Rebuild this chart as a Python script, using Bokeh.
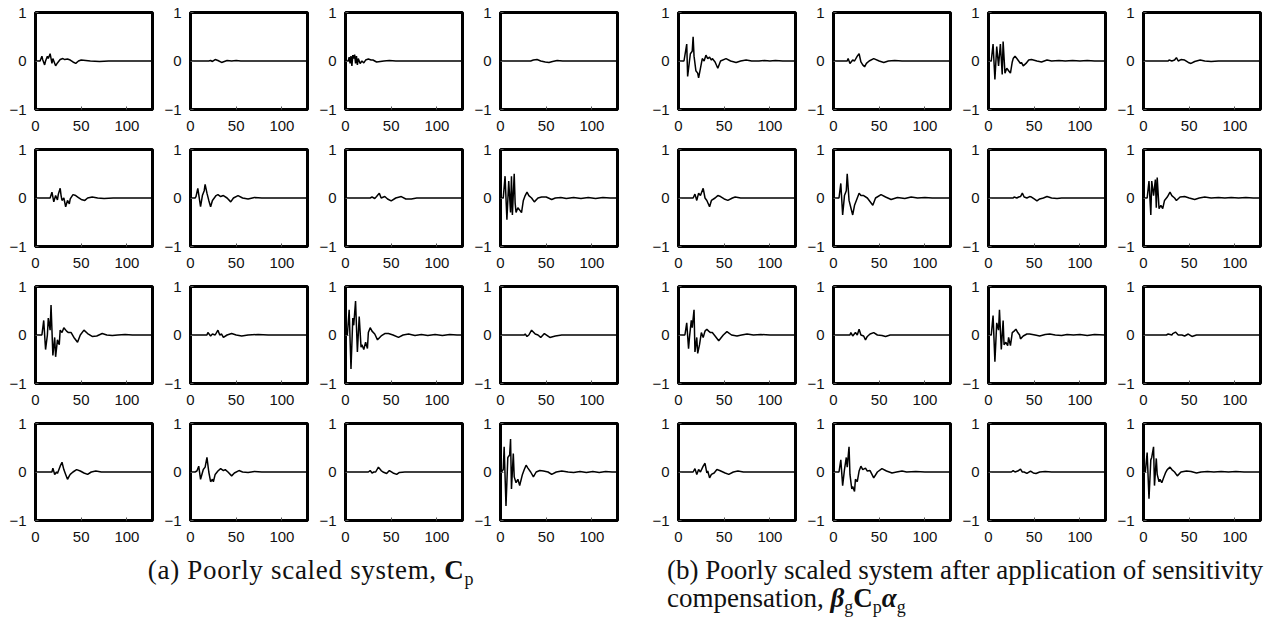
from bokeh.plotting import figure
from bokeh.layouts import row, column
from bokeh.models import Div, Spacer, Range1d, FixedTicker
from bokeh.embed import file_html
from bokeh.resources import INLINE

# Axis settings shared by every panel
X_TICKS = [0, 50, 100]
Y_TICKS = [-1, 0, 1]
Y_LABELS = {-1: "\u22121", 0: "0", 1: "1"}
N_SAMPLES = 128

# Impulse responses (sample index, amplitude) -- poorly scaled system C_p
cp_r0c0 = [(0, 0), (5, 0), (7, 0.1), (8, 0.02), (10, -0.08), (11, 0.0), (13, 0.1), (14, 0.05), (16, 0.15), (18, -0.05), (19, 0.05), (22, -0.1), (24, -0.04), (27, 0.03), (30, 0.05), (32, 0.03), (35, 0.04), (38, 0.02), (41, -0.02), (44, -0.05), (47, 0.0), (50, 0.02), (55, 0.01), (60, 0.0), (70, -0.01), (80, 0.0), (127, 0)]
cp_r0c1 = [(0, 0), (20, 0), (22, 0.01), (24, -0.01), (27, 0.03), (30, 0.01), (34, -0.03), (37, -0.01), (40, 0.01), (45, 0.0), (50, 0.01), (55, 0), (127, 0)]
cp_r0c2 = [(0, 0), (3, 0), (4, 0.08), (5, -0.05), (6, 0.1), (7, -0.1), (8, 0.12), (9, 0.05), (10, 0.13), (11, -0.05), (12, 0.1), (13, -0.08), (14, 0.05), (15, 0.0), (16, -0.05), (18, 0.0), (20, -0.04), (22, 0.02), (25, 0.04), (28, 0.02), (30, 0.02), (34, -0.02), (38, -0.01), (42, 0.0), (48, 0.01), (55, 0), (127, 0)]
cp_r0c3 = [(0, 0), (33, 0), (36, 0.02), (40, 0.03), (44, 0.0), (49, -0.02), (53, -0.03), (57, -0.01), (62, 0.01), (68, 0.0), (127, 0)]
cp_r1c0 = [(0, 0), (16, 0), (18, 0.12), (20, -0.08), (22, 0.05), (24, -0.04), (25, 0.08), (27, 0.2), (28, 0.05), (29, -0.05), (31, 0.0), (33, -0.18), (35, -0.05), (37, -0.12), (38, -0.02), (41, 0.07), (44, 0.05), (47, 0.01), (50, -0.03), (54, -0.05), (57, 0.0), (62, 0.02), (68, 0.0), (75, -0.01), (85, 0.0), (127, 0)]
cp_r1c1 = [(0, 0), (5, 0), (6, 0.03), (8, 0.2), (11, -0.18), (13, 0.05), (15, 0.15), (16, 0.28), (18, 0.1), (20, -0.05), (22, -0.18), (24, -0.05), (26, 0.0), (28, 0.05), (30, 0.07), (33, 0.03), (36, 0.05), (40, 0.0), (44, -0.08), (47, 0.0), (52, 0.05), (57, 0.0), (63, -0.02), (70, 0.01), (78, 0.0), (127, 0)]
cp_r1c2 = [(0, 0), (27, 0), (29, 0.02), (32, -0.01), (34, 0.03), (37, 0.1), (39, 0.0), (43, 0.03), (46, -0.02), (50, -0.06), (55, 0.0), (61, 0.03), (66, -0.02), (72, -0.02), (78, 0.0), (127, 0)]
cp_r1c3 = [(0, 0), (3, 0), (5, 0.45), (7, -0.45), (9, 0.35), (11, -0.3), (12, 0.45), (13, -0.35), (15, 0.5), (16, -0.1), (17, -0.3), (19, -0.2), (21, -0.25), (23, -0.3), (25, -0.05), (27, 0.05), (29, 0.12), (31, 0.05), (34, 0.0), (37, -0.08), (41, 0.0), (45, 0.02), (50, 0.02), (56, -0.03), (60, 0.0), (66, 0.01), (72, -0.01), (80, 0.01), (88, -0.01), (96, 0.01), (104, -0.01), (112, 0.01), (120, 0.0), (127, 0)]
cp_r2c0 = [(0, 0), (7, 0), (9, 0.3), (11, -0.3), (13, 0.0), (14, 0.35), (16, 0.1), (17, 0.62), (19, -0.42), (21, -0.05), (22, -0.45), (24, -0.1), (26, -0.2), (27, 0.1), (29, 0.05), (31, 0.15), (34, 0.08), (36, 0.05), (39, 0.05), (42, -0.05), (46, -0.15), (49, 0.0), (53, 0.1), (57, 0.03), (62, -0.03), (67, -0.02), (73, 0.03), (78, 0.0), (84, -0.01), (90, 0.0), (98, 0.01), (106, 0.0), (127, 0)]
cp_r2c1 = [(0, 0), (18, 0), (19, 0.05), (22, -0.02), (24, 0.02), (27, 0.0), (30, 0.1), (32, 0.0), (34, 0.02), (36, -0.05), (40, 0.0), (45, 0.03), (50, 0.0), (56, -0.02), (63, 0.0), (74, 0.01), (85, 0.0), (127, 0)]
cp_r2c2 = [(0, 0), (2, 0), (4, 0.52), (6, -0.7), (8, 0.35), (9, 0.2), (11, 0.7), (13, -0.35), (15, 0.38), (17, -0.25), (18, -0.2), (20, -0.3), (22, -0.15), (24, -0.28), (25, 0.05), (27, 0.15), (29, 0.08), (32, 0.02), (35, -0.1), (39, -0.02), (43, 0.03), (47, 0.03), (52, 0.0), (58, -0.05), (63, 0.0), (69, 0.02), (76, -0.01), (83, 0.01), (90, -0.01), (98, 0.01), (106, -0.01), (114, 0.01), (122, 0.0), (127, 0)]
cp_r2c3 = [(0, 0), (26, 0), (27, 0.02), (29, -0.03), (31, 0.0), (34, 0.1), (38, 0.02), (41, 0.0), (44, -0.05), (48, 0.03), (54, -0.05), (60, -0.02), (67, 0.0), (127, 0)]
cp_r3c0 = [(0, 0), (18, 0), (19, 0.08), (21, -0.05), (23, 0.0), (24, -0.03), (27, 0.12), (29, 0.2), (31, 0.05), (33, -0.05), (35, -0.15), (37, -0.08), (38, -0.05), (41, 0.0), (45, 0.05), (49, 0.02), (53, -0.02), (57, -0.05), (61, 0.0), (66, 0.02), (72, 0.0), (127, 0)]
cp_r3c1 = [(0, 0), (5, 0), (7, 0.02), (9, 0.12), (11, -0.15), (14, 0.05), (16, 0.1), (18, 0.3), (20, 0.0), (22, -0.2), (24, -0.15), (25, -0.2), (27, -0.05), (30, 0.02), (33, 0.07), (36, 0.03), (38, 0.05), (41, 0.0), (45, -0.08), (48, -0.02), (53, 0.03), (57, 0.0), (63, -0.01), (70, 0.01), (78, 0.0), (127, 0)]
cp_r3c2 = [(0, 0), (25, 0), (27, 0.03), (29, -0.02), (31, 0.0), (33, 0.0), (36, 0.1), (39, 0.03), (41, 0.0), (45, -0.03), (48, 0.03), (52, -0.02), (56, -0.05), (59, -0.01), (65, 0.0), (127, 0)]
cp_r3c3 = [(0, 0), (1, 0), (3, 0.05), (4, 0.52), (6, -0.7), (8, 0.3), (10, 0.35), (11, 0.68), (12, -0.35), (14, 0.38), (15, -0.1), (17, -0.22), (19, -0.15), (21, -0.28), (22, -0.2), (24, -0.05), (26, 0.05), (28, 0.14), (30, 0.08), (33, 0.0), (36, -0.1), (39, 0.0), (43, 0.03), (47, 0.02), (52, 0.0), (56, -0.05), (61, 0.0), (67, 0.02), (74, 0.0), (80, -0.01), (87, 0.01), (94, -0.01), (101, 0.01), (108, -0.01), (115, 0.01), (122, 0.0), (127, 0)]

# Impulse responses after sensitivity compensation, beta_g C_p alpha_g
cg_r0c0 = [(0, 0), (6, 0), (9, 0.35), (10, -0.32), (12, 0.0), (13, 0.15), (15, 0.2), (16, 0.5), (17, 0.1), (19, -0.2), (21, -0.25), (22, -0.35), (24, -0.15), (26, 0.05), (28, 0.0), (30, 0.12), (32, 0.05), (34, 0.08), (36, 0.02), (37, 0.05), (40, -0.02), (43, -0.15), (46, 0.0), (52, 0.05), (57, 0.0), (63, -0.03), (68, 0.0), (74, 0.02), (80, 0.0), (88, 0.0), (94, 0.01), (100, 0.0), (106, 0.01), (114, 0.0), (127, 0)]
cg_r0c1 = [(0, 0), (15, 0), (16, 0.05), (18, -0.05), (21, 0.02), (23, 0.0), (26, 0.1), (28, 0.15), (30, -0.02), (32, -0.08), (34, -0.12), (36, -0.05), (39, 0.0), (44, 0.05), (50, 0.0), (55, -0.03), (60, 0.0), (67, 0.01), (75, 0.0), (127, 0)]
cg_r0c2 = [(0, 0), (3, 0), (5, 0.35), (7, -0.38), (9, 0.3), (11, -0.1), (13, 0.35), (15, -0.28), (16, 0.4), (18, -0.25), (20, -0.15), (22, -0.2), (24, -0.25), (26, -0.02), (27, 0.05), (29, 0.1), (31, 0.05), (33, 0.0), (35, -0.05), (36, -0.03), (38, -0.1), (41, -0.05), (44, 0.02), (47, 0.03), (53, 0.0), (58, -0.02), (64, 0.02), (69, 0.0), (77, 0.01), (84, 0.0), (92, 0.01), (100, 0.0), (108, 0.01), (116, 0.0), (127, 0)]
cg_r0c3 = [(0, 0), (27, 0), (28, 0.02), (31, 0.0), (34, 0.02), (36, 0.07), (38, 0.0), (41, 0.03), (45, 0.02), (49, -0.03), (52, -0.05), (56, -0.01), (62, 0.02), (67, 0.0), (74, -0.01), (82, 0.0), (127, 0)]
cg_r1c0 = [(0, 0), (16, 0), (18, 0.08), (20, -0.05), (22, 0.1), (24, 0.05), (27, 0.2), (29, 0.0), (31, -0.05), (34, -0.18), (36, -0.05), (40, 0.0), (43, 0.05), (46, 0.03), (50, -0.02), (54, -0.05), (59, 0.0), (62, 0.02), (68, 0.0), (127, 0)]
cg_r1c1 = [(0, 0), (6, 0), (8, 0.3), (10, -0.35), (12, 0.05), (14, 0.15), (15, 0.5), (17, -0.05), (19, -0.2), (21, -0.35), (23, -0.15), (25, -0.05), (28, 0.1), (30, 0.05), (33, 0.05), (37, 0.0), (43, -0.15), (46, 0.0), (52, 0.07), (57, 0.02), (63, -0.03), (70, 0.01), (78, -0.01), (85, 0.02), (92, 0.0), (100, 0.01), (108, 0.0), (127, 0)]
cg_r1c2 = [(0, 0), (27, 0), (28, 0.02), (31, 0.0), (33, 0.02), (35, 0.03), (37, 0.1), (39, 0.02), (42, 0.0), (45, 0.03), (47, 0.02), (50, -0.02), (53, -0.06), (56, -0.02), (60, 0.0), (64, 0.03), (69, 0.0), (75, -0.01), (80, 0.0), (127, 0)]
cg_r1c3 = [(0, 0), (4, 0), (6, 0.35), (8, -0.35), (9, 0.35), (11, 0.05), (13, 0.38), (14, -0.2), (15, 0.42), (17, -0.22), (19, -0.15), (21, -0.22), (23, -0.05), (26, 0.02), (29, 0.12), (31, 0.05), (34, 0.0), (36, -0.05), (40, 0.02), (45, 0.03), (50, 0.0), (56, -0.03), (61, 0.0), (67, 0.02), (74, 0.0), (82, 0.01), (89, 0.0), (96, 0.01), (104, 0.0), (112, 0.01), (120, 0.0), (127, 0)]
cg_r2c0 = [(0, 0), (7, 0), (9, 0.25), (11, -0.28), (12, -0.05), (14, 0.3), (15, 0.15), (17, 0.52), (18, -0.35), (20, -0.05), (21, -0.38), (23, -0.2), (25, 0.05), (27, -0.05), (29, 0.08), (31, 0.12), (33, 0.08), (35, 0.05), (37, 0.05), (40, -0.02), (44, -0.12), (49, 0.0), (53, 0.07), (58, 0.0), (64, -0.02), (69, 0.0), (75, 0.02), (82, 0.0), (90, 0.01), (100, 0.0), (127, 0)]
cg_r2c1 = [(0, 0), (18, 0), (19, 0.05), (21, -0.02), (24, 0.05), (26, 0.0), (28, 0.12), (30, 0.0), (33, -0.02), (35, -0.1), (37, -0.03), (40, 0.02), (44, 0.05), (48, 0.0), (53, -0.01), (57, -0.03), (62, 0.0), (127, 0)]
cg_r2c2 = [(0, 0), (3, 0), (5, 0.4), (7, -0.55), (9, 0.25), (11, 0.1), (12, 0.52), (14, -0.3), (16, 0.3), (17, -0.2), (19, -0.15), (21, -0.22), (22, -0.05), (24, -0.22), (26, 0.05), (28, 0.08), (30, 0.12), (32, 0.05), (34, 0.0), (35, -0.08), (38, -0.02), (42, 0.02), (45, 0.02), (51, 0.0), (56, -0.02), (62, 0.01), (67, 0.02), (73, 0.0), (80, -0.01), (86, 0.01), (93, 0.0), (100, 0.01), (108, -0.01), (116, 0.01), (127, 0)]
cg_r2c3 = [(0, 0), (25, 0), (27, 0.02), (31, 0.0), (32, 0.03), (35, 0.06), (38, 0.0), (42, 0.0), (45, -0.02), (49, 0.02), (53, -0.03), (58, 0.0), (64, 0.0), (127, 0)]
cg_r3c0 = [(0, 0), (16, 0), (18, 0.07), (20, -0.05), (22, 0.05), (24, 0.0), (27, 0.12), (29, 0.18), (31, -0.02), (32, 0.02), (34, -0.12), (36, -0.05), (39, -0.02), (42, 0.05), (45, 0.03), (51, -0.02), (55, -0.05), (60, 0.0), (65, 0.02), (71, 0.0), (127, 0)]
cg_r3c1 = [(0, 0), (6, 0), (8, 0.25), (10, -0.28), (12, 0.05), (14, 0.3), (15, 0.1), (17, 0.52), (18, -0.05), (20, -0.35), (21, -0.3), (23, -0.4), (24, -0.15), (26, -0.2), (28, 0.02), (30, 0.12), (32, 0.05), (35, 0.08), (37, 0.02), (40, 0.03), (44, -0.12), (48, 0.0), (53, 0.07), (58, 0.02), (64, -0.02), (69, 0.0), (75, 0.02), (80, 0.0), (90, 0.01), (100, 0.0), (127, 0)]
cg_r3c2 = [(0, 0), (25, 0), (27, 0.03), (29, 0.0), (32, 0.02), (35, 0.06), (37, 0.0), (39, 0.0), (42, -0.03), (46, 0.02), (49, -0.02), (52, -0.03), (56, 0.0), (62, 0.01), (69, 0.0), (127, 0)]
cg_r3c3 = [(0, 0), (2, 0), (4, 0.4), (6, -0.55), (8, 0.25), (9, 0.3), (11, 0.52), (12, -0.28), (14, 0.28), (15, -0.05), (17, -0.2), (18, -0.15), (20, -0.22), (22, -0.12), (24, -0.02), (26, 0.05), (29, 0.1), (31, 0.05), (34, 0.0), (37, -0.08), (41, 0.0), (47, 0.02), (52, 0.01), (58, -0.02), (63, 0.0), (70, 0.01), (77, 0.0), (85, 0.01), (93, 0.0), (101, 0.01), (110, 0.0), (127, 0)]

CP_GRID = [
    [cp_r0c0, cp_r0c1, cp_r0c2, cp_r0c3],
    [cp_r1c0, cp_r1c1, cp_r1c2, cp_r1c3],
    [cp_r2c0, cp_r2c1, cp_r2c2, cp_r2c3],
    [cp_r3c0, cp_r3c1, cp_r3c2, cp_r3c3],
]
CG_GRID = [
    [cg_r0c0, cg_r0c1, cg_r0c2, cg_r0c3],
    [cg_r1c0, cg_r1c1, cg_r1c2, cg_r1c3],
    [cg_r2c0, cg_r2c1, cg_r2c2, cg_r2c3],
    [cg_r3c0, cg_r3c1, cg_r3c2, cg_r3c3],
]

TICK_FONT = "Liberation Sans"
TICK_SIZE = "15px"


def panel(trace):
    p = figure(
        width=155, height=137,
        x_range=Range1d(0, N_SAMPLES), y_range=Range1d(-1, 1),
        output_backend="svg", toolbar_location=None,
        min_border_left=35, min_border_right=3,
        min_border_top=12, min_border_bottom=28,
        background_fill_color="white", border_fill_color="white",
    )
    n = [pt[0] for pt in trace]
    v = [pt[1] for pt in trace]
    p.line(n, v, line_color="black", line_width=1.5)

    p.grid.visible = False
    p.outline_line_color = "black"
    p.outline_line_width = 3
    p.outline_line_alpha = 1.0

    p.xaxis.ticker = FixedTicker(ticks=X_TICKS)
    p.yaxis.ticker = FixedTicker(ticks=Y_TICKS)
    p.yaxis.major_label_overrides = Y_LABELS
    for ax in (p.xaxis[0], p.yaxis[0]):
        ax.axis_line_color = "black"
        ax.axis_line_width = 3
        ax.major_tick_in = 3
        ax.major_tick_out = 0
        ax.major_tick_line_color = "#555555"
        ax.minor_tick_line_color = None
        ax.major_label_text_font = TICK_FONT
        ax.major_label_text_font_size = TICK_SIZE
        ax.major_label_text_color = "#111111"
    p.xaxis.major_label_standoff = 11
    p.yaxis.major_label_standoff = 9
    return p


def group(grid):
    return column(*[row(*[panel(t) for t in r], spacing=0) for r in grid], spacing=0)


left = group(CP_GRID)
right = group(CG_GRID)

SERIF = "font-family:'Liberation Serif',serif;font-size:27px;color:#111;line-height:28px;"
SUB = "font-size:18px;"

cap_a = Div(
    text=f"<div style=\"{SERIF}text-align:center;width:612px;letter-spacing:0.7px;\">(a) Poorly scaled system, "
         f"<b>C</b><sub style='{SUB}'>p</sub></div>",
    width=620, height=79, styles={"padding-top": "3px"},
)
cap_b = Div(
    text=f"<div style=\"{SERIF}width:596px;\">"
         "<div style='white-space:nowrap;text-align:justify;text-align-last:justify;'>"
         "(b) Poorly scaled system after application of sensitivity</div>"
         f"<div>compensation, <b><i>\u03b2</i></b><sub style='{SUB}'>g</sub>"
         f"<b>C</b><sub style='{SUB}'>p</sub>"
         f"<b><i>\u03b1</i></b><sub style='{SUB}'>g</sub></div></div>",
    width=620, height=79, styles={"padding-top": "3px"},
)

layout = column(
    row(left, Spacer(width=23), right, spacing=0),
    row(cap_a, Spacer(width=32), cap_b, spacing=0),
    spacing=0,
)

open("out.html", "w").write(file_html(layout, INLINE))
